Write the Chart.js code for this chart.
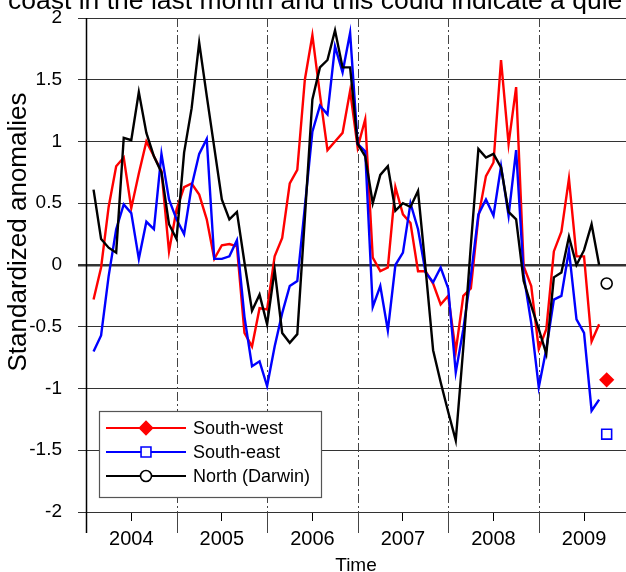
<!DOCTYPE html>
<html>
<head>
<meta charset="utf-8">
<title>Standardized anomalies</title>
<script src="https://cdn.jsdelivr.net/npm/chart.js@4.4.1/dist/chart.umd.min.js"></script>
<style>
  html, body { margin: 0; padding: 0; background: #fff; overflow: hidden; }
  #wrap { position: relative; width: 626px; height: 572px; overflow: hidden; }
  #AnomalyChart { position: absolute; left: 0; top: 0; }
  #caption {
    position: absolute; left: 8px; top: -15px;
    font: 26.5px 'Liberation Sans', Arial, sans-serif;
    white-space: nowrap; color: #000;
  }
</style>
</head>
<body>
<div id="wrap">
  <canvas id="AnomalyChart" width="626" height="572"></canvas>
  <div id="caption">coast in the last month and this could indicate a quie</div>
</div>
<script>
// monthly standardized anomalies, Jan 2004 .. Aug 2009
const seriesNames = ['South-west', 'South-east', 'North (Darwin)']

const southWest = [
  -0.28, -0.02, 0.47, 0.80, 0.87, 0.46, 0.74, 1.00, 0.88, 0.76, 0.11, 0.45,
  0.63, 0.66, 0.57, 0.37, 0.05, 0.16, 0.17, 0.15, -0.55, -0.66, -0.35, -0.36,
  0.07, 0.22, 0.66, 0.77, 1.50, 1.86, 1.38, 0.93, 1.00, 1.07, 1.41, 0.95,
  1.18, 0.06, -0.05, -0.02, 0.63, 0.41, 0.34, -0.05, -0.05, -0.15, -0.32, -0.25,
  -0.70, -0.25, -0.19, 0.39, 0.72, 0.83, 1.66, 0.98, 1.44, -0.01, -0.17, -0.68,
  -0.52, 0.11, 0.27, 0.70, 0.07, 0.07, -0.62, -0.48
]

const southEast = [
  -0.70, -0.57, -0.09, 0.29, 0.49, 0.42, 0.05, 0.35, 0.29, 0.90, 0.53, 0.37,
  0.25, 0.64, 0.90, 1.02, 0.05, 0.05, 0.07, 0.20, -0.42, -0.82, -0.78, -0.98,
  -0.66, -0.39, -0.17, -0.13, 0.47, 1.08, 1.29, 1.22, 1.77, 1.56, 1.88, 0.98,
  0.92, -0.34, -0.17, -0.53, 0.00, 0.10, 0.50, 0.29, -0.06, -0.14, -0.02, -0.19,
  -0.87, -0.52, -0.09, 0.41, 0.53, 0.40, 0.80, 0.40, 0.93, -0.08, -0.47, -0.99,
  -0.68, -0.28, -0.25, 0.12, -0.44, -0.55, -1.18, -1.09
]

const northDarwin = [
  0.61, 0.21, 0.14, 0.10, 1.03, 1.01, 1.40, 1.07, 0.88, 0.75, 0.33, 0.21,
  0.91, 1.27, 1.80, 1.37, 0.95, 0.53, 0.37, 0.43, 0.02, -0.37, -0.24, -0.48,
  -0.04, -0.55, -0.63, -0.56, 0.38, 1.34, 1.60, 1.66, 1.90, 1.60, 1.60, 0.98,
  0.88, 0.50, 0.73, 0.80, 0.44, 0.50, 0.47, 0.60, -0.03, -0.69, -0.95, -1.19,
  -1.42, -0.67, 0.16, 0.94, 0.87, 0.90, 0.79, 0.43, 0.37, -0.13, -0.33, -0.52,
  -0.72, -0.10, -0.06, 0.23, 0.00, 0.12, 0.33, 0.00
]

// latest month, shown as a single marker per region
const latestMonth = 69
const latestValues = [-0.93, -1.37, -0.15]

const yearLabels = ['2004', '2005', '2006', '2007', '2008', '2009']
const yTicks = [-2, -1.5, -1, -0.5, 0, 0.5, 1, 1.5, 2]

const seriesColors = ['#ff0000', '#0000ff', '#000000']
const markerStyles = [
  { pointStyle: 'rectRot', radius: 6.5, fill: '#ff0000' },
  { pointStyle: 'rect', radius: 7, fill: '#ffffff' },
  { pointStyle: 'circle', radius: 5.5, fill: '#ffffff' }
]

const FONT = "'Liberation Sans', Arial, sans-serif"

const toPoints = (arr) => arr.map((v, i) => ({ x: i + 1, y: v }))

const lineSets = [southWest, southEast, northDarwin].map((arr, i) => ({
  label: seriesNames[i],
  data: toPoints(arr),
  borderColor: seriesColors[i],
  borderWidth: 2.4,
  pointRadius: 0,
  tension: 0,
  fill: false,
  order: 3 - i
}))

const markerSets = latestValues.map((v, i) => ({
  label: seriesNames[i] + ' (latest)',
  data: [{ x: latestMonth, y: v }],
  showLine: false,
  pointStyle: markerStyles[i].pointStyle,
  pointRadius: markerStyles[i].radius,
  pointBorderWidth: 1.6,
  pointBorderColor: seriesColors[i],
  pointBackgroundColor: markerStyles[i].fill,
  order: 0
}))

// dash-dot year boundaries + long ticks under the axis
const yearLinesPlugin = {
  id: 'yearLines',
  beforeDatasetsDraw(chart) {
    const { ctx, chartArea, scales: { x } } = chart
    ctx.save()
    yearLabels.forEach((_, i) => {
      const px = Math.round(x.getPixelForValue(i * 12)) + 0.5
      if (i === 0) {
        ctx.strokeStyle = '#000'
        ctx.lineWidth = 1.5
        ctx.setLineDash([])
      } else {
        ctx.strokeStyle = '#444'
        ctx.lineWidth = 1
        ctx.setLineDash([9, 3, 2, 3])
      }
      ctx.beginPath()
      ctx.moveTo(px, chartArea.top)
      ctx.lineTo(px, chartArea.bottom)
      ctx.stroke()
      ctx.setLineDash([])
      ctx.beginPath()
      ctx.moveTo(px, chartArea.bottom)
      ctx.lineTo(px, chartArea.bottom + 21)
      ctx.stroke()
    })
    ctx.restore()
  }
}

// boxed legend with line + marker samples, and the y axis title
const legendBoxPlugin = {
  id: 'legendBox',
  afterDraw(chart) {
    const { ctx } = chart
    const left = 99, top = 411, w = 222, h = 86
    ctx.save()
    ctx.fillStyle = '#fff'
    ctx.fillRect(left, top, w, h)
    ctx.strokeStyle = '#555'
    ctx.lineWidth = 1.2
    ctx.strokeRect(left + 0.5, top + 0.5, w, h)
    seriesNames.forEach((name, i) => {
      const y = top + 17 + i * 24
      ctx.strokeStyle = seriesColors[i]
      ctx.lineWidth = 2.2
      ctx.beginPath()
      ctx.moveTo(106, y)
      ctx.lineTo(186, y)
      ctx.stroke()
      ctx.fillStyle = markerStyles[i].fill
      ctx.lineWidth = 1.6
      Chart.helpers.drawPoint(ctx, {
        pointStyle: markerStyles[i].pointStyle,
        radius: markerStyles[i].radius,
        borderWidth: 1.6,
        rotation: 0
      }, 146, y)
      ctx.fillStyle = '#000'
      ctx.font = '18px ' + FONT
      ctx.textBaseline = 'middle'
      ctx.textAlign = 'left'
      ctx.fillText(name, 193, y + 1)
    })

    ctx.translate(19, 232)
    ctx.rotate(-Math.PI / 2)
    ctx.fillStyle = '#000'
    ctx.font = '26px ' + FONT
    ctx.textAlign = 'center'
    ctx.textBaseline = 'middle'
    ctx.fillText('Standardized anomalies', 0, 0)
    ctx.restore()
  }
}

const ctx = document.getElementById('AnomalyChart')

new Chart(ctx, {
  type: 'line',
  data: { datasets: [...lineSets, ...markerSets] },
  plugins: [yearLinesPlugin, legendBoxPlugin],
  options: {
    responsive: false,
    animation: false,
    layout: { autoPadding: false, padding: { top: 18, right: 0, bottom: 0, left: 0 } },
    plugins: {
      legend: { display: false },
      tooltip: { enabled: false },
      title: { display: false }
    },
    scales: {
      x: {
        type: 'linear',
        min: 0,
        max: 71.56,
        afterBuildTicks: (scale) => {
          scale.ticks = yearLabels.map((_, i) => ({ value: i * 12 + 6 }))
        },
        afterFit: (scale) => {
          scale.height = 60
          scale.paddingLeft = 0
          scale.paddingRight = 0
        },
        ticks: {
          autoSkip: false,
          maxRotation: 0,
          padding: 6,
          color: '#000',
          font: { family: FONT, size: 20 },
          callback: (value) => yearLabels[Math.round((value - 6) / 12)]
        },
        grid: {
          drawOnChartArea: false,
          drawTicks: true,
          tickLength: 9,
          color: '#000',
          lineWidth: 1
        },
        border: { display: false },
        title: {
          display: true,
          text: 'Time',
          color: '#000',
          font: { family: FONT, size: 19 },
          padding: { top: 0, bottom: -5 }
        }
      },
      y: {
        min: -2,
        max: 2,
        afterBuildTicks: (scale) => {
          scale.ticks = yTicks.map((v) => ({ value: v }))
        },
        afterFit: (scale) => {
          scale.width = 86
          scale.paddingTop = 0
          scale.paddingBottom = 0
        },
        ticks: {
          padding: 16,
          color: '#000',
          font: { family: FONT, size: 19 },
          callback: (value) => String(value)
        },
        grid: {
          color: '#333',
          lineWidth: (c) => (c.tick && c.tick.value === 0 ? 2.5 : 1),
          tickLength: 8
        },
        border: { display: false },
        title: { display: false }
      }
    }
  }
})
</script>
</body>
</html>
